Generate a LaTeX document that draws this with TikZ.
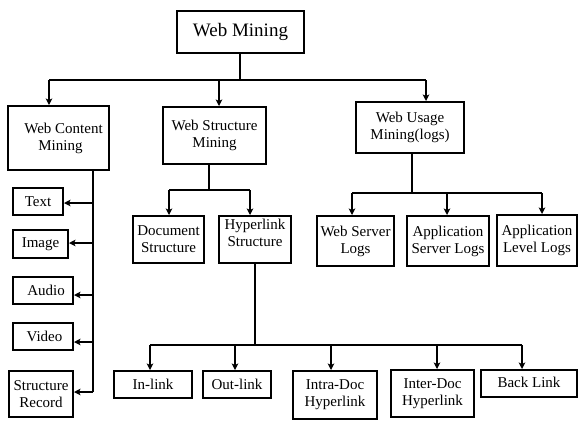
\documentclass[tikz,border=0pt]{standalone}
\usepackage{fontspec}
\setmainfont{Liberation Serif}
\usetikzlibrary{arrows.meta}
\begin{document}
\begin{tikzpicture}[x=1pt,y=-1pt,
  box/.style={draw, line width=2pt, inner sep=0pt, align=center,
    font=\fontsize{15}{17}\selectfont},
  conn/.style={line width=1.6pt},
  arr/.style={line width=1.6pt, -{Stealth[length=6.5pt,width=6.5pt,inset=1.5pt]}}]
\useasboundingbox (0,0) rectangle (580,440);

% root
\node[box, minimum width=127pt, minimum height=42pt, font=\fontsize{19}{22}\selectfont] (wm) at (240.5,32) {Web Mining};

% second level
\node[box, minimum width=101pt, minimum height=64pt] (wcm) at (58.5,138) {\hspace*{10pt}Web Content\\\hspace*{4pt}Mining};
\node[box, minimum width=103pt, minimum height=57pt] (wsm) at (214.5,135.5) {Web Structure\\Mining};
\node[box, minimum width=108pt, minimum height=51pt] (wum) at (410,127.5) {Web Usage\\Mining(logs)};

% content children
\node[box, minimum width=50pt, minimum height=27pt] (text) at (38,201.5) {Text};
\node[box, minimum width=55pt, minimum height=28pt] (image) at (40.5,244) {Image};
\node[box, minimum width=60pt, minimum height=27pt] (audio) at (43,290.5) {\hspace*{6pt}Audio};
\node[box, minimum width=60pt, minimum height=27pt] (video) at (43,336.5) {\hspace*{3pt}Video};
\node[box, minimum width=64pt, minimum height=46pt] (srec) at (41,394) {Structure\\Record};

% structure children
\node[box, minimum width=71pt, minimum height=47pt] (doc) at (168.5,239.5) {Document\\Structure};
\node[box, minimum width=72pt, minimum height=47pt] (hyp) at (255,239.5) {Hyperlink\\Structure\\[-4pt]};

% usage children
\node[box, minimum width=77pt, minimum height=50pt] (wsl) at (355.5,241) {Web Server\\Logs};
\node[box, minimum width=82pt, minimum height=50pt] (asl) at (448,241) {Application\\Server Logs};
\node[box, minimum width=80pt, minimum height=51pt] (all) at (537,240.5) {Application\\Level Logs};

% hyperlink children
\node[box, minimum width=78pt, minimum height=27pt] (inl) at (153,384.5) {In-link};
\node[box, minimum width=68pt, minimum height=27pt] (outl) at (237,384.5) {Out-link};
\node[box, minimum width=84pt, minimum height=48pt] (intra) at (335,395) {Intra-Doc\\Hyperlink};
\node[box, minimum width=83pt, minimum height=47pt] (inter) at (432.5,393.5) {Inter-Doc\\Hyperlink};
\node[box, minimum width=96pt, minimum height=27pt] (back) at (529,383.5) {\raisebox{2pt}{Back Link}};

% root to second level
\coordinate (t0) at (240,80);
\coordinate (tL) at (49,80);
\coordinate (tM) at (219,80);
\coordinate (tR) at (426,80);
\draw[conn] (t0 |- wm.south) -- (t0);
\draw[conn] (tL) -- (tR);
\draw[arr] (tL) -- (tL |- wcm.north);
\draw[arr] (tM) -- (tM |- wsm.north);
\draw[arr] (tR) -- (tR |- wum.north);

% content spine
\coordinate (cT) at (93,170);
\coordinate (cB) at (93,392);
\draw[conn] (cT) -- (cB);
\draw[arr] (cT |- 0,203) -- ([yshift=-1.5pt]text.east);
\draw[arr] (cT |- 0,243) -- ([yshift=1pt]image.east);
\draw[arr] (cT |- 0,295) -- ([yshift=-4.5pt]audio.east);
\draw[arr] (cT |- 0,342) -- ([yshift=-5.5pt]video.east);
\draw[arr] (cB) -- ([yshift=2pt]srec.east);

% structure branch
\coordinate (s0) at (209,164);
\coordinate (s1) at (209,190);
\coordinate (sL) at (169,190);
\coordinate (sR) at (250,190);
\draw[conn] (s0) -- (s1);
\draw[conn] (sL) -- (sR);
\draw[arr] (sL) -- (sL |- doc.north);
\draw[arr] (sR) -- (sR |- hyp.north);

% usage branch
\coordinate (u0) at (412,153);
\coordinate (u1) at (412,193);
\coordinate (uL) at (352,193);
\coordinate (uM) at (447,193);
\coordinate (uR) at (542,193);
\draw[conn] (u0) -- (u1);
\draw[conn] (uL) -- (uR);
\draw[arr] (uL) -- (uL |- wsl.north);
\draw[arr] (uM) -- (uM |- asl.north);
\draw[arr] (uR) -- (uR |- all.north);

% hyperlink branch
\coordinate (h1) at (255,345);
\coordinate (hA) at (150,345);
\coordinate (hB) at (235,345);
\coordinate (hC) at (331,345);
\coordinate (hD) at (437,345);
\coordinate (hE) at (522,345);
\draw[conn] (hyp.south) -- (h1);
\draw[conn] (hA) -- (hE);
\draw[arr] (hA) -- (hA |- inl.north);
\draw[arr] (hB) -- (hB |- outl.north);
\draw[arr] (hC) -- (hC |- intra.north);
\draw[arr] (hD) -- (hD |- inter.north);
\draw[arr] (hE) -- (hE |- back.north);
\end{tikzpicture}
\end{document}
